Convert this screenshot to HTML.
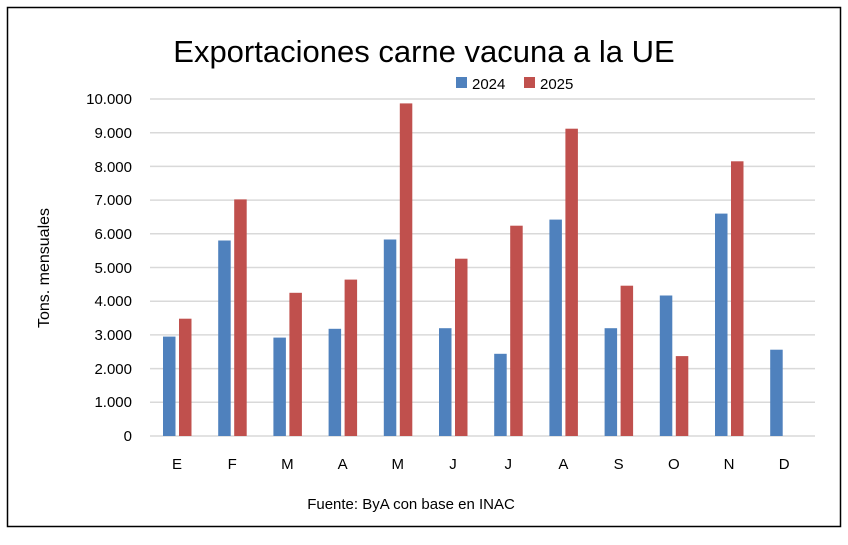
<!DOCTYPE html><html><head><style>body{margin:0;background:#fff}</style></head><body>
<svg width="848" height="540" xmlns="http://www.w3.org/2000/svg" font-family="Liberation Sans, sans-serif">
<rect x="0" y="0" width="848" height="540" fill="#fff"/>
<rect x="7.5" y="7.5" width="833" height="519" fill="none" stroke="#000" stroke-width="1.5"/>
<text x="424" y="62" font-size="31" text-anchor="middle" fill="#000">Exportaciones carne vacuna a la UE</text>
<rect x="456" y="77" width="11" height="11" fill="#4f81bd"/><text x="472" y="89" font-size="15">2024</text>
<rect x="524" y="77" width="11" height="11" fill="#c0504d"/><text x="540" y="89" font-size="15">2025</text>
<g stroke="#d9d9d9" stroke-width="1.5">
<line x1="150" x2="815" y1="99" y2="99"/><line x1="150" x2="815" y1="132.7" y2="132.7"/><line x1="150" x2="815" y1="166.4" y2="166.4"/><line x1="150" x2="815" y1="200.1" y2="200.1"/><line x1="150" x2="815" y1="233.8" y2="233.8"/><line x1="150" x2="815" y1="267.5" y2="267.5"/><line x1="150" x2="815" y1="301.2" y2="301.2"/><line x1="150" x2="815" y1="334.9" y2="334.9"/><line x1="150" x2="815" y1="368.6" y2="368.6"/><line x1="150" x2="815" y1="402.3" y2="402.3"/><line x1="150" x2="815" y1="436" y2="436"/>
</g>
<g font-size="15" text-anchor="end" fill="#000">
<text x="132" y="104">10.000</text><text x="132" y="138">9.000</text><text x="132" y="172">8.000</text><text x="132" y="205">7.000</text><text x="132" y="239">6.000</text><text x="132" y="273">5.000</text><text x="132" y="306">4.000</text><text x="132" y="340">3.000</text><text x="132" y="374">2.000</text><text x="132" y="407">1.000</text><text x="132" y="441">0</text>
</g>
<text transform="translate(49,268) rotate(-90)" font-size="16" text-anchor="middle">Tons. mensuales</text>
<g fill="#4f81bd">
<rect x="163" y="336.6" width="12.5" height="99.4"/>
<rect x="218.2" y="240.5" width="12.5" height="195.5"/>
<rect x="273.4" y="337.6" width="12.5" height="98.4"/>
<rect x="328.6" y="328.8" width="12.5" height="107.2"/>
<rect x="383.8" y="239.5" width="12.5" height="196.5"/>
<rect x="439" y="328.2" width="12.5" height="107.8"/>
<rect x="494.2" y="353.8" width="12.5" height="82.2"/>
<rect x="549.4" y="219.6" width="12.5" height="216.4"/>
<rect x="604.6" y="328.2" width="12.5" height="107.8"/>
<rect x="659.8" y="295.5" width="12.5" height="140.5"/>
<rect x="715" y="213.6" width="12.5" height="222.4"/>
<rect x="770.2" y="349.7" width="12.5" height="86.3"/>
</g>
<g fill="#c0504d">
<rect x="179" y="318.7" width="12.5" height="117.3"/>
<rect x="234.2" y="199.4" width="12.5" height="236.6"/>
<rect x="289.4" y="292.8" width="12.5" height="143.2"/>
<rect x="344.6" y="279.6" width="12.5" height="156.4"/>
<rect x="399.8" y="103.4" width="12.5" height="332.6"/>
<rect x="455" y="258.7" width="12.5" height="177.3"/>
<rect x="510.2" y="225.7" width="12.5" height="210.3"/>
<rect x="565.4" y="128.7" width="12.5" height="307.3"/>
<rect x="620.6" y="285.7" width="12.5" height="150.3"/>
<rect x="675.8" y="356.1" width="12.5" height="79.9"/>
<rect x="731" y="161.3" width="12.5" height="274.7"/>
</g>
<g font-size="15" text-anchor="middle" fill="#000">
<text x="177" y="469">E</text><text x="232.2" y="469">F</text><text x="287.4" y="469">M</text><text x="342.6" y="469">A</text><text x="397.8" y="469">M</text><text x="453" y="469">J</text><text x="508.2" y="469">J</text><text x="563.4" y="469">A</text><text x="618.6" y="469">S</text><text x="673.8" y="469">O</text><text x="729" y="469">N</text><text x="784.2" y="469">D</text>
</g>
<text x="411" y="509" font-size="15" text-anchor="middle">Fuente: ByA con base en INAC</text>
</svg></body></html>
